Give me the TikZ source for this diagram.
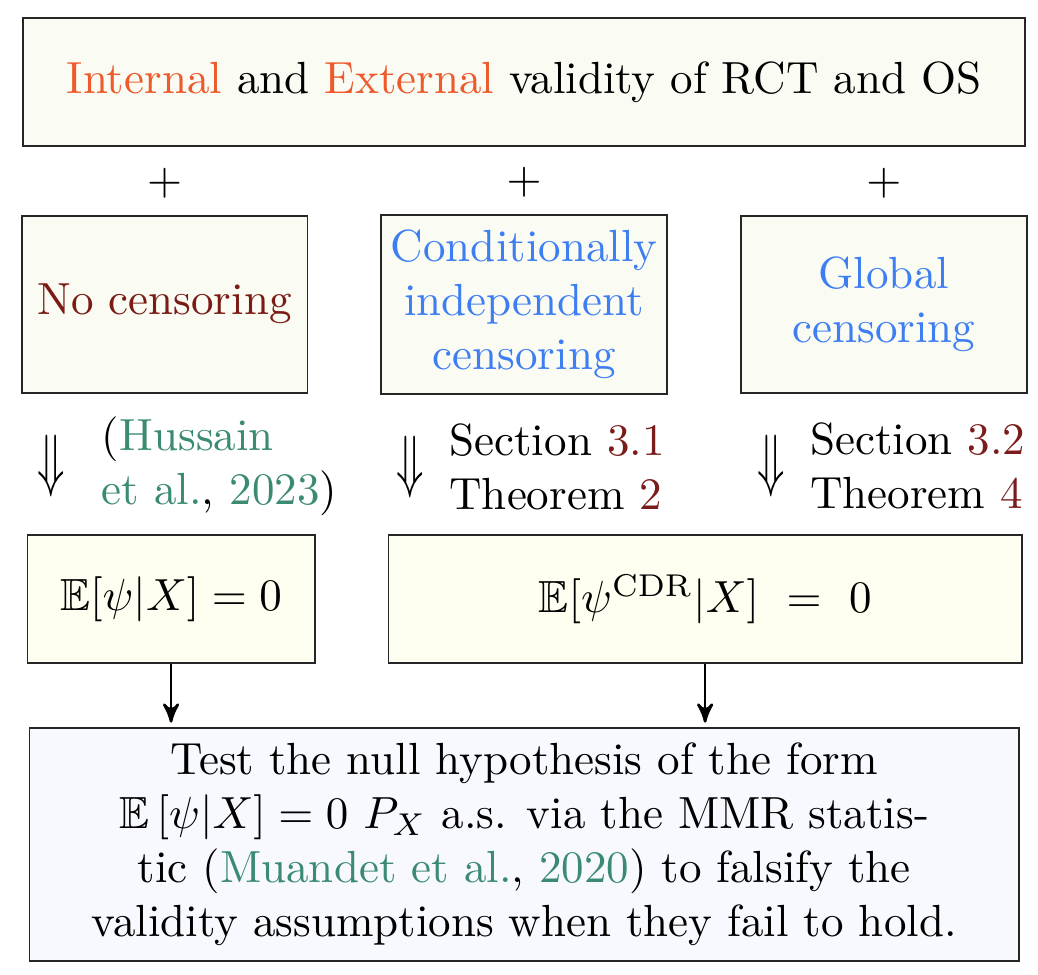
\documentclass[tikz,border=0pt]{standalone}
\usepackage{amssymb}
\usepackage{graphicx}
\usetikzlibrary{arrows, positioning, calc}

\definecolor{boxbg}{HTML}{FAFBF3}
\definecolor{nullbg}{HTML}{FFFFF1}
\definecolor{testbg}{HTML}{F8F9FE}
\definecolor{valcol}{HTML}{EE5A2B}
\definecolor{nocol}{HTML}{7A1B16}
\definecolor{cenblue}{HTML}{3D7EF2}
\definecolor{citecol}{HTML}{3A8A74}
\definecolor{refcol}{HTML}{7A1C1C}

\begin{document}
\begin{tikzpicture}
        [->, >=stealth', shorten >=1pt, semithick, node distance=16pt,
        frame/.style={rectangle, draw=black!85, thin, fill=boxbg, align=center},
        casebox/.style={frame, inner xsep=0pt, minimum width=63.5pt, minimum height=39.3pt},
        nullbox/.style={frame, fill=nullbg, minimum height=28.4pt},
        implies/.style={inner sep=0pt},
        reflabel/.style={inner sep=0pt, align=left}]
        \node[frame, minimum width=222.7pt, minimum height=28.4pt]  (valid)
        {\textcolor{valcol}{Internal} and \textcolor{valcol}{External} validity of RCT and OS};

        \node[casebox]  (cid)    [below = 14.9pt of valid]
        {\textcolor{cenblue}{Conditionally} \\
            \textcolor{cenblue}{independent} \\
            \textcolor{cenblue}{censoring}};

        \node[casebox]  (nocens)    [left = of cid]
        {\textcolor{nocol}{No censoring}};

        \node[casebox]  (global)    [right = of cid]
        {\textcolor{cenblue}{Global} \\
            \textcolor{cenblue}{censoring}};

        \node  (plusA)    [above = 0pt of nocens] {$+$};
        \node  (plusB)    [above = 0pt of cid] {$+$};
        \node  (plusC)    [above = 0pt of global] {$+$};

        \useasboundingbox ($(valid.north west)+(-4.9pt,3.8pt)$) rectangle ($(valid.north west)+(225.7pt,-212.6pt)$);

        \node[implies]  (impA)    [below = 8.9pt of nocens.south west, xshift=6.7pt] {\scalebox{1}[1.55]{$\Downarrow$}};
        \node[implies]  (impB)    [below = 8.9pt of cid.south west, xshift=6.7pt] {\scalebox{1}[1.55]{$\Downarrow$}};
        \node[implies]  (impC)    [below = 8.9pt of global.south west, xshift=6.9pt] {\scalebox{1}[1.55]{$\Downarrow$}};

        \node[reflabel]  (refA)    [right = 7.7pt of impA]
        {(\textcolor{citecol}{Hussain} \\
            \textcolor{citecol}{et al.}, \textcolor{citecol}{2023})};

        \node[reflabel]  (refB)    [right = 5pt of impB]
        {Section \textcolor{refcol}{3.1} \\
            Theorem \textcolor{refcol}{2}};

        \node[reflabel]  (refC)    [right = 5pt of impC]
        {Section \textcolor{refcol}{3.2} \\
            Theorem \textcolor{refcol}{4}};

        \node[nullbox, minimum width=63.8pt]  (nullA)    [below = 31.3pt of nocens.south west, anchor=north west, xshift=1.3pt]
        {$\mathbb{E}[\psi|X]=0$};

        \node[nullbox, minimum width=140.7pt]  (nullB)    [right = of nullA]
        {$\mathbb{E}[\psi^{\mathrm{CDR}}|X]\ =\ 0$};

        \coordinate (mid) at (nullA.south -| valid.south);

        \node[frame, fill=testbg, minimum width=219.8pt, minimum height=51.6pt]  (test)    [below = 14pt of mid]
        {Test the null hypothesis of the form \\
            $\mathbb{E}\left[\psi|X\right] = 0$ $P_X$ a.s. via the MMR statis- \\
            tic (\textcolor{citecol}{Muandet et al.}, \textcolor{citecol}{2020}) to falsify the \\
            validity assumptions when they fail to hold.};

        \path (nullA.south) edge   (nullA.south |- test.north)
              (nullB.south) edge   (nullB.south |- test.north);
      \end{tikzpicture}
\end{document}
